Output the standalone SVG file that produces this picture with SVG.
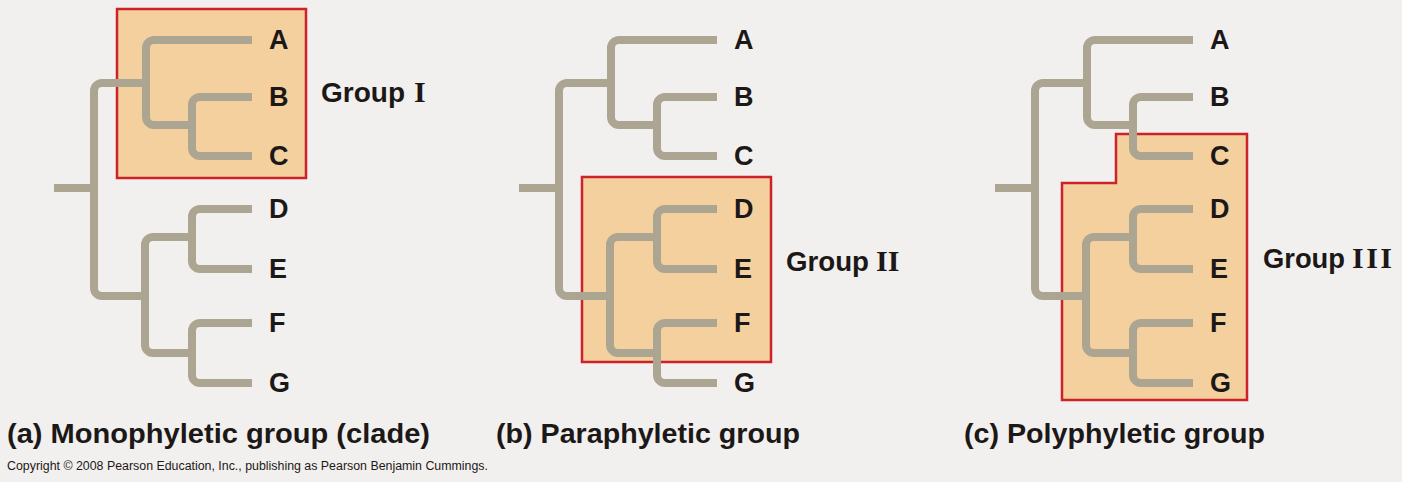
<svg xmlns="http://www.w3.org/2000/svg" width="1402" height="482" viewBox="0 0 1402 482">
<defs>
<style>
.bg{fill:#f2f0ee}
.box{fill:#f3d09e;stroke:#cc2229;stroke-width:2.5}
.br{fill:none;stroke:#aba592;stroke-width:8;stroke-linecap:butt;stroke-linejoin:round}
.leaf{font-family:"Liberation Sans",Arial,sans-serif;font-weight:bold;font-size:27px;fill:#1c1817}
.grp{font-family:"Liberation Sans",Arial,sans-serif;font-weight:bold;font-size:28px;fill:#1c1817}
.rom{font-family:"Liberation Serif","Times New Roman",serif;font-weight:bold;font-size:30px;fill:#1c1817}
.cap{font-family:"Liberation Sans",Arial,sans-serif;font-weight:bold;font-size:28.5px;fill:#1c1817}
.copy{font-family:"Liberation Sans",Arial,sans-serif;font-size:12.5px;fill:#1c1817}
</style>
<g id="tree">
<path class="br" d="M54,188 H94"/>
<path class="br" d="M146,83 H102 A8,8 0 0 0 94,91 V288 A8,8 0 0 0 102,296 H145"/>
<path class="br" d="M252,40 H154 A8,8 0 0 0 146,48 V117 A8,8 0 0 0 154,125 H192"/>
<path class="br" d="M252,97 H200 A8,8 0 0 0 192,105 V148 A8,8 0 0 0 200,156 H252"/>
<path class="br" d="M192,237 H153 A8,8 0 0 0 145,245 V345 A8,8 0 0 0 153,353 H192"/>
<path class="br" d="M252,209 H200 A8,8 0 0 0 192,217 V261 A8,8 0 0 0 200,269 H252"/>
<path class="br" d="M252,323 H200 A8,8 0 0 0 192,331 V375 A8,8 0 0 0 200,383 H252"/>
</g>
<g id="leaves">
<text class="leaf" x="269" y="49">A</text>
<text class="leaf" x="269" y="106">B</text>
<text class="leaf" x="269" y="165">C</text>
<text class="leaf" x="269" y="218">D</text>
<text class="leaf" x="269" y="278">E</text>
<text class="leaf" x="269" y="332">F</text>
<text class="leaf" x="269" y="392">G</text>
</g>
</defs>
<rect class="bg" x="0" y="0" width="1402" height="482"/>

<g id="group-I">
<rect class="box" x="117" y="9" width="189" height="169"/>
</g>
<g id="group-II">
<rect class="box" x="582" y="177" width="189" height="185"/>
</g>
<g id="group-III">
<polygon class="box" points="1116,134 1247,134 1247,400 1062,400 1062,183 1116,183"/>
</g>

<g id="connectors">
<use href="#tree" x="0" y="0"/>
<use href="#tree" x="465" y="0"/>
<use href="#tree" x="941" y="0"/>
</g>

<g id="leaf-labels-a"><use href="#leaves" x="0" y="0"/></g>
<g id="leaf-labels-b"><use href="#leaves" x="465" y="0"/></g>
<g id="leaf-labels-c"><use href="#leaves" x="941" y="0"/></g>

<g id="label-group-I">
<text class="grp" x="321" y="102" textLength="84" lengthAdjust="spacingAndGlyphs">Group</text>
<text class="rom" x="414" y="102">I</text>
</g>
<g id="label-group-II">
<text class="grp" x="786" y="271" textLength="83" lengthAdjust="spacingAndGlyphs">Group</text>
<text class="rom" x="876" y="271">II</text>
</g>
<g id="label-group-III">
<text class="grp" x="1263" y="268" textLength="82" lengthAdjust="spacingAndGlyphs">Group</text>
<text class="rom" x="1352" y="268" textLength="40" lengthAdjust="spacing">III</text>
</g>

<g id="captions">
<text class="cap" x="7" y="443" textLength="423" lengthAdjust="spacingAndGlyphs">(a) Monophyletic group (clade)</text>
<text class="cap" x="496" y="443" textLength="304" lengthAdjust="spacingAndGlyphs">(b) Paraphyletic group</text>
<text class="cap" x="964" y="443" textLength="301" lengthAdjust="spacingAndGlyphs">(c) Polyphyletic group</text>
<text class="copy" x="7" y="470" textLength="481" lengthAdjust="spacingAndGlyphs">Copyright © 2008 Pearson Education, Inc., publishing as Pearson Benjamin Cummings.</text>
</g>
</svg>
